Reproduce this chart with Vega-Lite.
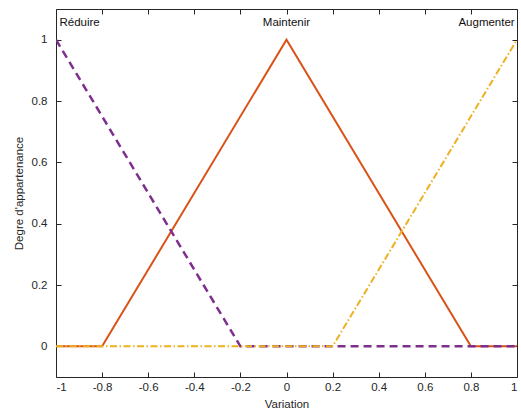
{
  "$schema": "https://vega.github.io/schema/vega-lite/v6.json",
  "width": 461,
  "height": 368,
  "padding": {"left": 56, "top": 9, "right": 4, "bottom": 37},
  "autosize": {"type": "none"},
  "background": "white",
  "resolve": {"axis": {"x": "independent", "y": "independent"}},
  "config": {
    "font": "Liberation Sans",
    "view": {"stroke": "#262626", "strokeWidth": 1},
    "axis": {
      "grid": false,
      "domain": false,
      "zindex": 1,
      "labelColor": "#262626",
      "labelFontSize": 11.5,
      "titleFontSize": 11.5,
      "titleFontWeight": "normal",
      "titleColor": "#262626",
      "labelFont": "Liberation Sans",
      "titleFont": "Liberation Sans"
    }
  },
  "datasets": {
    "mf": [
      {"serie": "Maintenir", "x": -1, "y": 0, "k": 0},
      {"serie": "Maintenir", "x": -0.8, "y": 0, "k": 1},
      {"serie": "Maintenir", "x": 0, "y": 1, "k": 2},
      {"serie": "Maintenir", "x": 0.8, "y": 0, "k": 3},
      {"serie": "Maintenir", "x": 1, "y": 0, "k": 4},
      {"serie": "Réduire", "x": -1, "y": 1, "k": 0},
      {"serie": "Réduire", "x": -0.2, "y": 0, "k": 1},
      {"serie": "Réduire", "x": 1, "y": 0, "k": 2},
      {"serie": "Augmenter", "x": -1, "y": 0, "k": 0},
      {"serie": "Augmenter", "x": 0.2, "y": 0, "k": 1},
      {"serie": "Augmenter", "x": 1, "y": 1, "k": 2}
    ],
    "labels": [
      {"txt": "Réduire", "x": -0.985, "y": 1.055, "al": "left"},
      {"txt": "Maintenir", "x": 0, "y": 1.055, "al": "center"},
      {"txt": "Augmenter", "x": 0.99, "y": 1.055, "al": "right"}
    ]
  },
  "layer": [
    {
      "data": {"name": "mf"},
      "transform": [{"filter": "datum.serie === 'Maintenir'"}],
      "mark": {"type": "line", "color": "#D95319", "strokeWidth": 2, "clip": true},
      "encoding": {
        "x": {"field": "x", "type": "quantitative", "scale": {"domain": [-1, 1], "nice": false},
          "axis": {"title": "Variation", "orient": "bottom", "values": [-1, -0.8, -0.6, -0.4, -0.2, 0, 0.2, 0.4, 0.6, 0.8, 1], "titlePadding": 6, "labelPadding": 9,
            "ticks": true, "tickSize": -5, "tickColor": "#262626", "tickWidth": 1,
            "labelExpr": "datum.value < 0 ? '-' + format(-datum.value, '~g') : format(datum.value, '~g')"}},
        "y": {"field": "y", "type": "quantitative", "scale": {"domain": [-0.1, 1.1], "nice": false, "zero": false},
          "axis": {"title": "Degre d'appartenance", "orient": "left", "values": [0, 0.2, 0.4, 0.6, 0.8, 1], "titlePadding": 7, "labelPadding": 9,
            "ticks": true, "tickSize": 5, "offset": -5, "tickColor": "#262626", "tickWidth": 1,
            "labelExpr": "format(datum.value, '~g')"}},
        "order": {"field": "k"}
      }
    },
    {
      "data": {"name": "mf"},
      "transform": [{"filter": "datum.serie === 'Réduire'"}],
      "mark": {"type": "line", "color": "#7E2F8E", "strokeWidth": 2.5, "strokeDash": [8, 5], "clip": true},
      "encoding": {
        "x": {"field": "x", "type": "quantitative",
          "axis": {"orient": "top", "labels": false, "title": null, "ticks": true, "tickSize": -5, "tickColor": "#262626", "values": [-1, -0.8, -0.6, -0.4, -0.2, 0, 0.2, 0.4, 0.6, 0.8, 1]}},
        "y": {"field": "y", "type": "quantitative",
          "axis": {"orient": "right", "labels": false, "title": null, "ticks": true, "tickSize": -5, "tickColor": "#262626", "values": [0, 0.2, 0.4, 0.6, 0.8, 1]}},
        "order": {"field": "k"}
      }
    },
    {
      "data": {"name": "mf"},
      "transform": [{"filter": "datum.serie === 'Augmenter'"}],
      "mark": {"type": "line", "color": "#EDB120", "strokeWidth": 2, "strokeDash": [7, 2.5, 1.5, 2.5], "clip": true},
      "encoding": {
        "x": {"field": "x", "type": "quantitative", "axis": null},
        "y": {"field": "y", "type": "quantitative", "axis": null},
        "order": {"field": "k"}
      }
    },
    {
      "data": {"name": "labels"},
      "transform": [{"filter": "datum.al === 'left'"}],
      "mark": {"type": "text", "fontSize": 11.5, "color": "#111111", "font": "Liberation Sans", "baseline": "middle", "align": "left"},
      "encoding": {
        "x": {"field": "x", "type": "quantitative", "axis": null},
        "y": {"field": "y", "type": "quantitative", "axis": null},
        "text": {"field": "txt"}
      }
    },
    {
      "data": {"name": "labels"},
      "transform": [{"filter": "datum.al === 'center'"}],
      "mark": {"type": "text", "fontSize": 11.5, "color": "#111111", "font": "Liberation Sans", "baseline": "middle", "align": "center"},
      "encoding": {
        "x": {"field": "x", "type": "quantitative", "axis": null},
        "y": {"field": "y", "type": "quantitative", "axis": null},
        "text": {"field": "txt"}
      }
    },
    {
      "data": {"name": "labels"},
      "transform": [{"filter": "datum.al === 'right'"}],
      "mark": {"type": "text", "fontSize": 11.5, "color": "#111111", "font": "Liberation Sans", "baseline": "middle", "align": "right"},
      "encoding": {
        "x": {"field": "x", "type": "quantitative", "axis": null},
        "y": {"field": "y", "type": "quantitative", "axis": null},
        "text": {"field": "txt"}
      }
    }
  ]
}
